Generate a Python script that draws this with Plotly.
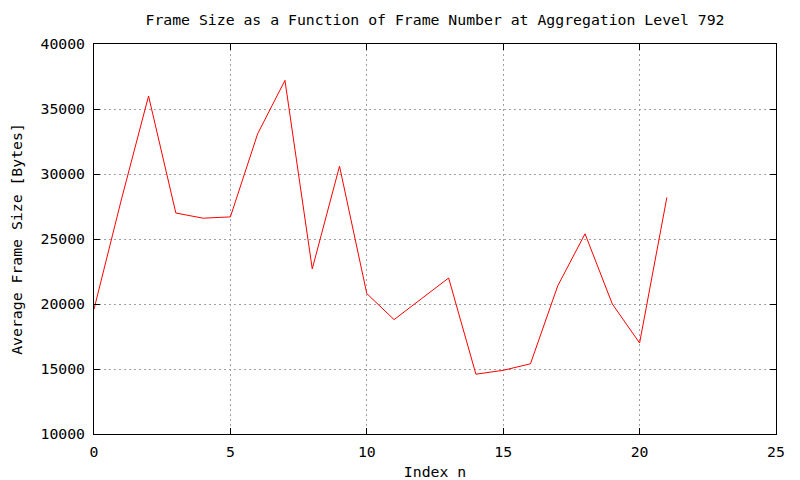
import plotly.graph_objects as go

index_n = list(range(22))
frame_size = [19600, 28000, 36000, 27000, 26600, 26700, 33100, 37200, 22700, 30600,
              20800, 18800, 20400, 22000, 14600, 14900, 15400, 21400, 25400, 20000,
              17000, 28200]

x_ticks = [0, 5, 10, 15, 20, 25]
y_ticks = [10000, 15000, 20000, 25000, 30000, 35000, 40000]

FONT = "DejaVu Sans Mono"
FS = 14.8
W, H = 792, 472  # page body has an 8px margin

fig = go.Figure()
fig.add_trace(go.Scatter(x=index_n, y=frame_size, mode="lines",
                         line=dict(color="#ff0000", width=1), showlegend=False))

axis_common = dict(
    showline=True, linecolor="black", linewidth=1, mirror="allticks",
    ticks="inside", ticklen=6, tickcolor="black", tickwidth=1,
    showgrid=True, gridcolor="#a0a0a0", griddash="2px,3px", gridwidth=1,
    zeroline=False, automargin=False,
    tickfont=dict(family=FONT, size=FS, color="black"),
)

fig.update_layout(
    width=W, height=H,
    paper_bgcolor="white", plot_bgcolor="white",
    margin=dict(l=86, r=24, t=36, b=46, autoexpand=False),
    title=dict(text="Frame Size as a Function of Frame Number at Aggregation Level 792",
               x=0.5, xref="paper", y=1 - 12 / H, yref="container",
               xanchor="center", yanchor="middle",
               font=dict(family=FONT, size=FS, color="black")),
    xaxis=dict(range=[0, 25], tickvals=x_ticks, ticktext=[str(v) for v in x_ticks],
               ticklabelstandoff=4,
               title=dict(text="Index n", font=dict(family=FONT, size=FS, color="black"),
                          standoff=14),
               **axis_common),
    yaxis=dict(range=[10000, 40000], tickvals=y_ticks, ticktext=[str(v) for v in y_ticks],
               ticklabelstandoff=5,
               title=dict(text="Average Frame Size [Bytes]",
                          font=dict(family=FONT, size=FS, color="black"), standoff=20),
               **axis_common),
)

fig.write_html("out.html")
